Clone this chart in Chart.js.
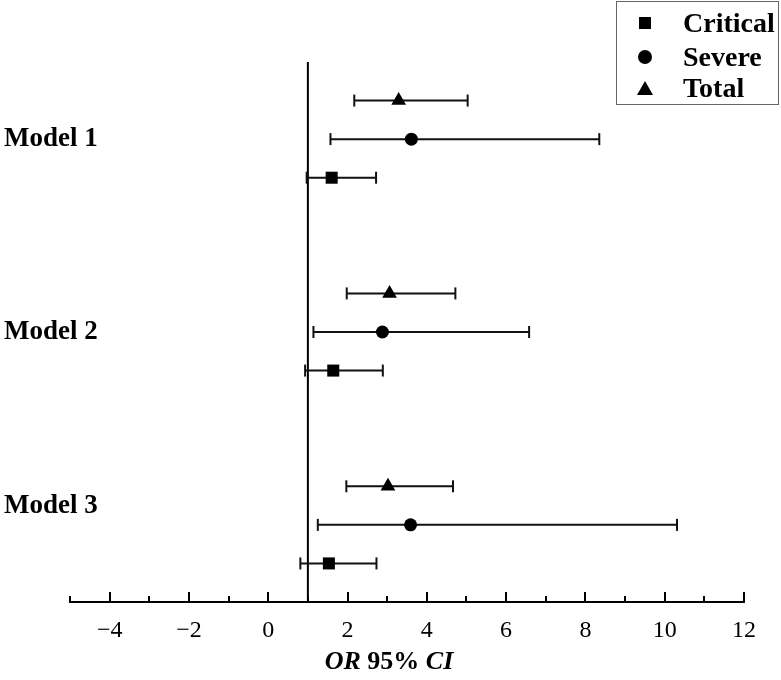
<!DOCTYPE html>
<html>
<head>
<meta charset="utf-8">
<script src="https://cdn.jsdelivr.net/npm/chart.js@4"></script>
<style>
  body { margin: 0; background: #fff; }
  #wrap { position: relative; width: 781px; height: 680px; }
  #legend { position: absolute; left: 616px; top: 1px; width: 161px; height: 102px;
    border: 1px solid #666; font: bold 28px 'Liberation Serif', serif; color: #000; }
  .row { position: absolute; left: 0; height: 30px; line-height: 30px; }
  .row span { position: absolute; left: 66px; top: 0; white-space: nowrap; }
  .mk { position: absolute; background: #000; }
</style>
</head>
<body>
<div id="wrap">
  <canvas id="chart" width="781" height="680"></canvas>
  <div id="legend">
    <div class="row" style="top:6px"><div class="mk" style="left:22px;top:9px;width:12px;height:12px"></div><span>Critical</span></div>
    <div class="row" style="top:40px"><div class="mk" style="left:21px;top:8px;width:14px;height:14px;border-radius:50%"></div><span>Severe</span></div>
    <div class="row" style="top:71px"><div class="mk" style="left:20px;top:8px;width:0;height:0;background:none;border-left:8px solid transparent;border-right:8px solid transparent;border-bottom:14px solid #000"></div><span>Total</span></div>
  </div>
</div>
<script>
var models = ['Model 1', 'Model 2', 'Model 3'];
var modelTickPos = [12, 7, 2.5];

var criticalOR = [1.60, 1.64, 1.53];
var criticalLo = [0.97, 0.93, 0.81];
var criticalHi = [2.72, 2.89, 2.73];
var rowCritical = [11, 6, 1];

var severeOR = [3.61, 2.88, 3.59];
var severeLo = [1.57, 1.14, 1.25];
var severeHi = [8.35, 6.58, 10.31];
var rowSevere = [12, 7, 2];

var totalOR = [3.29, 3.06, 3.02];
var totalLo = [2.17, 1.98, 1.97];
var totalHi = [5.03, 4.72, 4.66];
var rowTotal = [13, 8, 3];

var refLine = 1;
var xMin = -5, xMax = 12, yMax = 14;

function points(vals, rows) {
  return vals.map(function(v, i) { return { x: v, y: rows[i] }; });
}
function bars(lo, hi, rows) {
  var out = [];
  for (var i = 0; i < lo.length; i++) {
    out.push({ x: lo[i], y: rows[i] }, { x: hi[i], y: rows[i] }, { x: hi[i], y: null });
  }
  return out;
}
function barSet(lo, hi, rows) {
  return {
    data: bars(lo, hi, rows), showLine: true, borderColor: '#111', borderWidth: 2,
    pointStyle: 'line', pointRotation: 90, pointRadius: 6, pointBorderWidth: 2,
    pointBorderColor: '#111', order: 2
  };
}
function markSet(label, vals, rows, style, r) {
  return {
    label: label, data: points(vals, rows), pointStyle: style, pointRadius: r,
    backgroundColor: '#000', borderColor: '#000', borderWidth: 0, order: 1
  };
}

// tick marks point up into the plot, long on even values; model labels and axis title
var extras = {
  id: 'extras',
  afterDraw: function(chart) {
    var sx = chart.scales.x, sy = chart.scales.y, ctx = chart.ctx, bottom = chart.chartArea.bottom;
    ctx.save();
    ctx.strokeStyle = '#000';
    ctx.lineWidth = 2;
    sx.ticks.forEach(function(t) {
      var px = Math.round(sx.getPixelForValue(t.value));
      var len = t.value % 2 === 0 ? 10 : 6;
      ctx.beginPath();
      ctx.moveTo(px, bottom);
      ctx.lineTo(px, bottom - len);
      ctx.stroke();
    });

    ctx.fillStyle = '#000';
    ctx.textBaseline = 'middle';
    ctx.textAlign = 'left';
    ctx.font = 'bold 27px "Liberation Serif"';
    models.forEach(function(m, i) {
      ctx.fillText(m, 4, sy.getPixelForValue(modelTickPos[i]));
    });

    var y = 662, parts = [['OR', 'italic bold'], [' 95% ', 'bold'], ['CI', 'italic bold']];
    var w = 0;
    parts.forEach(function(p) { ctx.font = p[1] + ' 26px "Liberation Serif"'; w += ctx.measureText(p[0]).width; });
    var x = 389 - w / 2;
    parts.forEach(function(p) {
      ctx.font = p[1] + ' 26px "Liberation Serif"';
      ctx.fillText(p[0], x, y);
      x += ctx.measureText(p[0]).width;
    });
    ctx.restore();
  }
};

var chart = new Chart(document.getElementById('chart').getContext('2d'), {
  type: 'scatter',
  data: {
    datasets: [
      { data: [{ x: refLine, y: 0 }, { x: refLine, y: yMax }], showLine: true, borderColor: '#000',
        borderWidth: 2, pointRadius: 0, order: 3 },
      barSet(criticalLo, criticalHi, rowCritical),
      barSet(severeLo, severeHi, rowSevere),
      barSet(totalLo, totalHi, rowTotal),
      markSet('Critical', criticalOR, rowCritical, 'rect', 8.5),
      markSet('Severe', severeOR, rowSevere, 'circle', 6.5),
      markSet('Total', totalOR, rowTotal, 'triangle', 8.5)
    ]
  },
  options: {
    responsive: false,
    animation: false,
    layout: { padding: { top: 62, right: 37, left: 4, bottom: 0 } },
    plugins: { legend: { display: false }, tooltip: { enabled: false } },
    scales: {
      x: {
        type: 'linear', min: xMin, max: xMax,
        grid: { display: false, drawTicks: false },
        border: { display: true, color: '#000', width: 2 },
        ticks: {
          stepSize: 1, autoSkip: false, maxRotation: 0, padding: 14, color: '#000',
          font: { family: 'Liberation Serif', size: 24 },
          callback: function(v) {
            if (v % 2 !== 0) return '';
            return v < 0 ? '\u2212' + (-v) : String(v);
          }
        },
        afterFit: function(s) { s.height = 78; }
      },
      y: {
        type: 'linear', min: 0, max: yMax,
        grid: { display: false, drawTicks: false },
        border: { display: false },
        ticks: { display: false },
        afterFit: function(s) { s.width = 66; }
      }
    }
  },
  plugins: [extras]
});
</script>
</body>
</html>
